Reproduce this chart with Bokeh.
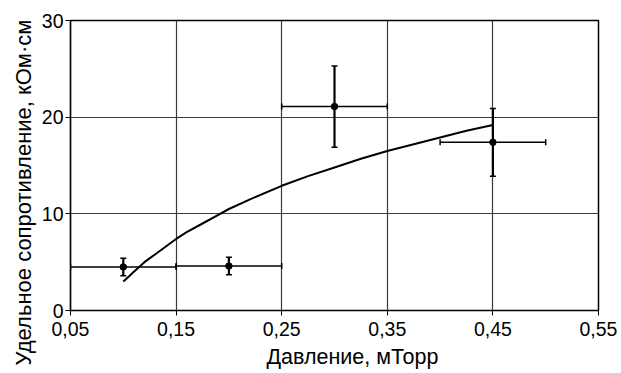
from bokeh.plotting import figure
from bokeh.models import FixedTicker, Whisker, TeeHead, ColumnDataSource, Title
from bokeh.embed import file_html
from bokeh.resources import INLINE

# Data
pressure = [0.10, 0.20, 0.30, 0.45]
resist = [4.5, 4.6, 21.1, 17.4]
y_err = [0.9, 0.9, 4.2, 3.5]
x_err = [0.05, 0.05, 0.05, 0.05]

fit_x = [0.100, 0.105, 0.110, 0.115, 0.120, 0.130, 0.140, 0.150, 0.160, 0.175, 0.190,
         0.200, 0.220, 0.250, 0.275, 0.300, 0.325, 0.350, 0.375, 0.400, 0.425, 0.450]
fit_y = [3.0, 3.5, 4.0, 4.5, 5.0, 5.8, 6.6, 7.4, 8.1, 9.0, 9.9,
         10.5, 11.5, 12.9, 13.9, 14.8, 15.7, 16.5, 17.2, 17.9, 18.6, 19.2]

x_ticks = [0.05, 0.15, 0.25, 0.35, 0.45, 0.55]
x_tick_labels = ["0,05", "0,15", "0,25", "0,35", "0,45", "0,55"]
y_ticks = [0, 10, 20, 30]

FONT = "Liberation Sans"

p = figure(width=621, height=373, x_range=(0.05, 0.55), y_range=(0, 30),
           output_backend="svg", toolbar_location=None,
           min_border_left=70, min_border_right=23, min_border_top=20, min_border_bottom=63)

p.outline_line_color = "black"
p.outline_line_width = 1.5
p.background_fill_color = "white"
p.border_fill_color = "white"

p.xaxis.ticker = FixedTicker(ticks=x_ticks)
p.yaxis.ticker = FixedTicker(ticks=y_ticks)
p.xaxis.major_label_overrides = {t: l for t, l in zip(x_ticks, x_tick_labels)}
p.xgrid.ticker = FixedTicker(ticks=x_ticks)
p.ygrid.ticker = FixedTicker(ticks=y_ticks)

for g in (p.xgrid, p.ygrid):
    g.grid_line_color = "#3a3a3a"
    g.grid_line_width = 1.2

for ax in (p.xaxis, p.yaxis):
    ax.axis_line_color = "black"
    ax.axis_line_width = 1.2
    ax.major_tick_line_color = "black"
    ax.major_tick_out = 5
    ax.major_tick_in = 0
    ax.minor_tick_line_color = None
    ax.major_label_text_font = FONT
    ax.major_label_text_font_size = "19.5px"
    ax.major_label_text_color = "black"

p.xaxis.major_label_standoff = 6
p.yaxis.major_label_standoff = 2

xlab = Title(text="Давление, мТорр", align="left", offset=196, standoff=8,
             text_font=FONT, text_font_size="21.5px", text_font_style="normal",
             text_color="black")
p.add_layout(xlab, "below")
ylab = Title(text="Удельное сопротивление, кОм·см", align="left", offset=-55, standoff=6,
             text_font=FONT, text_font_size="22px", text_font_style="normal",
             text_color="black")
p.add_layout(ylab, "left")

# fitted curve
p.line(fit_x, fit_y, line_color="black", line_width=2)

src = ColumnDataSource(dict(
    x=pressure, y=resist,
    yl=[r - e for r, e in zip(resist, y_err)], yu=[r + e for r, e in zip(resist, y_err)],
    xl=[x - e for x, e in zip(pressure, x_err)], xu=[x + e for x, e in zip(pressure, x_err)],
))

p.add_layout(Whisker(source=src, base="x", lower="yl", upper="yu", dimension="height",
                     line_color="black", line_width=2.2,
                     lower_head=TeeHead(size=6, line_color="black", line_width=1.5),
                     upper_head=TeeHead(size=6, line_color="black", line_width=1.5)))
p.add_layout(Whisker(source=src, base="y", lower="xl", upper="xu", dimension="width",
                     line_color="black", line_width=1.6,
                     lower_head=TeeHead(size=6, line_color="black", line_width=1.5),
                     upper_head=TeeHead(size=6, line_color="black", line_width=1.5)))

p.scatter("x", "y", source=src, size=6.5, color="black")

open("out.html", "w").write(file_html(p, INLINE))
